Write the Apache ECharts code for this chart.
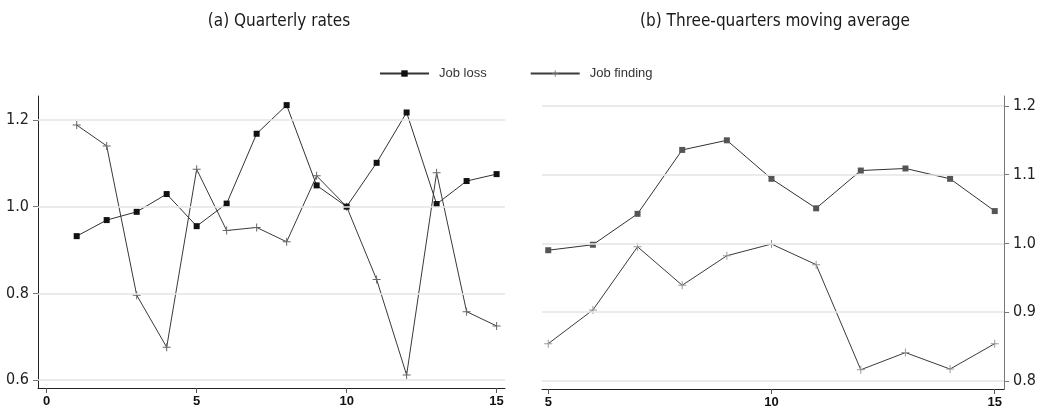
<!DOCTYPE html>
<html>
<head>
<meta charset="utf-8">
<script src="https://cdn.jsdelivr.net/npm/echarts@6/dist/echarts.min.js"></script>
<style>
  html, body { margin: 0; padding: 0; background: #fff; }
  #chart { width: 1039px; height: 412px; }
</style>
</head>
<body>
<div id="chart"></div>
<script>
// Quarter index for each panel
const quartersA = [1, 2, 3, 4, 5, 6, 7, 8, 9, 10, 11, 12, 13, 14, 15];
const quartersB = [5, 6, 7, 8, 9, 10, 11, 12, 13, 14, 15];

// (a) Quarterly rates
const jobLossA    = [0.932, 0.969, 0.988, 1.029, 0.955, 1.007, 1.168, 1.234, 1.049, 1.000, 1.101, 1.217, 1.006, 1.059, 1.075];
const jobFindingA = [1.188, 1.140, 0.796, 0.676, 1.086, 0.945, 0.952, 0.919, 1.071, 1.000, 0.832, 0.612, 1.078, 0.758, 0.725];

// (b) Three-quarters moving average
const jobLossB    = [0.990, 0.998, 1.043, 1.136, 1.150, 1.094, 1.051, 1.106, 1.109, 1.094, 1.047];
const jobFindingB = [0.854, 0.903, 0.995, 0.939, 0.982, 0.999, 0.969, 0.816, 0.841, 0.817, 0.854];

// Tick labels
const xTicksA = [0, 5, 10, 15];
const xTicksB = [5, 10, 15];
const yTicksA = [0.6, 0.8, 1.0, 1.2];
const yTicksB = [0.8, 0.9, 1.0, 1.1, 1.2];

const seriesNames = ['Job loss', 'Job finding'];
const titles = ['(a) Quarterly rates', '(b) Three-quarters moving average'];

const PLUS = 'path://M0,3.5L8,3.5L8,4.5L0,4.5Z M3.5,0L4.5,0L4.5,8L3.5,8Z';
const narrow = '"Liberation Sans Narrow", "DejaVu Sans Condensed", "Liberation Sans", sans-serif';
const condensed = '"DejaVu Sans Condensed", "Liberation Sans Narrow", sans-serif';

const pairs = (xs, ys) => xs.map((x, i) => [x, ys[i]]);

function gridSeries(idx, values) {
  return {
    type: 'line', xAxisIndex: idx, yAxisIndex: idx, data: [], z: 1, silent: true,
    markLine: {
      silent: true, symbol: ['none', 'none'], label: { show: false },
      lineStyle: { color: '#e4e4e4', width: 1.5, type: 'solid' },
      data: values.map(v => ({ yAxis: v }))
    }
  };
}

function xAxis(idx, min, max, ticks) {
  return {
    type: 'value', gridIndex: idx, min: min, max: max,
    splitLine: { show: false },
    axisLine: { show: true, onZero: false, lineStyle: { color: '#222', width: 1 } },
    axisTick: { show: true, length: 5, customValues: ticks, lineStyle: { color: '#555' } },
    axisLabel: {
      customValues: ticks, margin: 7, color: '#111',
      fontFamily: '"Liberation Sans", Arial, sans-serif', fontWeight: 'bold', fontSize: 13,
      formatter: v => String(v)
    }
  };
}

function yAxis(idx, min, max, ticks, pos, lineColor) {
  return {
    type: 'value', gridIndex: idx, min: min, max: max, position: pos,
    splitLine: { show: false },
    axisLine: { show: true, onZero: false, lineStyle: { color: lineColor, width: 1 } },
    axisTick: { show: true, length: 5, customValues: ticks, lineStyle: { color: '#777' } },
    axisLabel: {
      customValues: ticks, margin: 9, color: '#222',
      fontFamily: narrow, fontSize: 16,
      formatter: v => v.toFixed(1)
    }
  };
}

const chart = echarts.init(document.getElementById('chart'), null, { renderer: 'canvas' });

chart.setOption({
  animation: false,
  backgroundColor: '#fff',
  title: [
    { text: titles[0], left: 274, top: 8, textAlign: 'center',
      textStyle: { fontFamily: condensed, fontSize: 17, fontWeight: 'normal', color: '#1a1a1a' } },
    { text: titles[1], left: 770, top: 8, textAlign: 'center',
      textStyle: { fontFamily: condensed, fontSize: 17, fontWeight: 'normal', color: '#1a1a1a' } }
  ],
  legend: {
    data: seriesNames, left: 379, top: 67, padding: 0, itemWidth: 49, itemHeight: 8, itemGap: 43,
    textStyle: { fontFamily: '"Liberation Sans", Arial, sans-serif', fontSize: 13, color: '#333', padding: [0, 0, 0, 5] },
    selectedMode: false
  },
  grid: [
    { left: 38, right: 534, top: 96, bottom: 24 },
    { left: 542, right: 32, top: 96, bottom: 23 }
  ],
  xAxis: [
    xAxis(0, -0.29, 15.28, xTicksA),
    xAxis(1, 4.86, 15.21, xTicksB)
  ],
  yAxis: [
    yAxis(0, 0.582, 1.255, yTicksA, 'left', '#222'),
    yAxis(1, 0.788, 1.2145, yTicksB, 'right', '#777')
  ],
  series: [
    gridSeries(0, yTicksA),
    gridSeries(1, yTicksB),
    {
      name: seriesNames[0], type: 'line', xAxisIndex: 0, yAxisIndex: 0, z: 3,
      data: pairs(quartersA, jobLossA),
      symbol: 'rect', symbolSize: 6, showAllSymbol: true,
      lineStyle: { color: '#333', width: 1 },
      itemStyle: { color: '#111' }
    },
    {
      name: seriesNames[1], type: 'line', xAxisIndex: 0, yAxisIndex: 0, z: 2,
      data: pairs(quartersA, jobFindingA),
      symbol: PLUS, symbolSize: 8, showAllSymbol: true,
      lineStyle: { color: '#3a3a3a', width: 1 },
      itemStyle: { color: '#666' }
    },
    {
      name: seriesNames[0], type: 'line', xAxisIndex: 1, yAxisIndex: 1, z: 3,
      data: pairs(quartersB, jobLossB),
      symbol: 'rect', symbolSize: 6, showAllSymbol: true,
      lineStyle: { color: '#333', width: 1 },
      itemStyle: { color: '#555' }
    },
    {
      name: seriesNames[1], type: 'line', xAxisIndex: 1, yAxisIndex: 1, z: 2,
      data: pairs(quartersB, jobFindingB),
      symbol: PLUS, symbolSize: 8, showAllSymbol: true,
      lineStyle: { color: '#3a3a3a', width: 1 },
      itemStyle: { color: '#999' }
    }
  ]
});
</script>
</body>
</html>
